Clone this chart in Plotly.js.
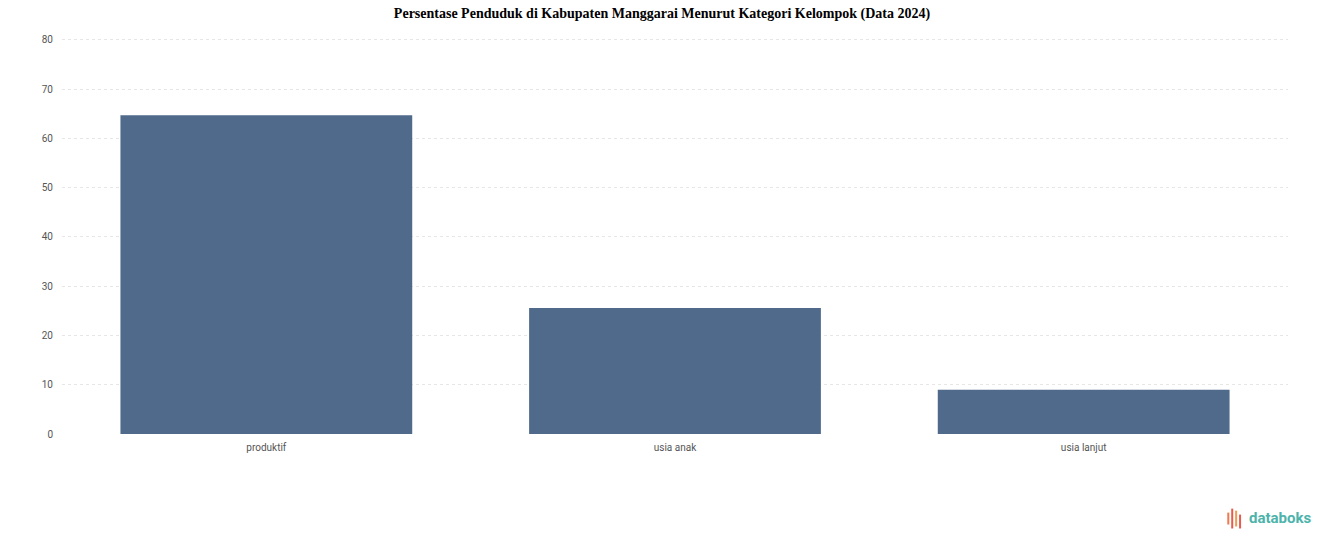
<!DOCTYPE html>
<html><head><meta charset="utf-8">
<script src="https://cdn.plot.ly/plotly-3.0.1.min.js"></script>
<style>html,body{margin:0;padding:0;background:#fff}#c{width:1324px;height:547px}</style>
</head><body><div id="c"></div>
<script>
const categories = ["produktif", "usia anak", "usia lanjut"];
const values = [64.7, 25.6, 9.0];
const tickVals = [0, 10, 20, 30, 40, 50, 60, 70, 80];

const trace = {
  type: "bar", x: categories, y: values,
  marker: {color: "#4f6a8b"},
  hoverinfo: "x+y"
};
const layout = {
  width: 1324, height: 547,
  margin: {l: 62, r: 36, t: 37, b: 113},
  paper_bgcolor: "#fff", plot_bgcolor: "#fff",
  bargap: 0.286,
  title: {text: "<b>Persentase Penduduk di Kabupaten Manggarai Menurut Kategori Kelompok (Data 2024)</b>",
    font: {family: "Liberation Serif, Times New Roman, serif", size: 14, color: "#000"},
    x: 0.5, xanchor: "center", y: 0.985, yanchor: "top"},
  xaxis: {tickfont: {family: "Roboto, sans-serif", size: 10, color: "#555"}, showgrid: false, zeroline: false, showline: false, ticks: "", ticklabelstandoff: 6},
  yaxis: {range: [0, 80.6], tickvals: tickVals, tickfont: {family: "Roboto, sans-serif", size: 10, color: "#555"},
    gridcolor: "#e6e6e6", griddash: "dot", zeroline: false, showline: false, ticks: "", ticklabelstandoff: 8},
  showlegend: false,
  annotations: [{xref: "paper", yref: "paper", x: 1.02, y: -0.212, xanchor: "right", yanchor: "middle",
    text: "<b>databoks</b>", showarrow: false, font: {family: "Roboto, sans-serif", size: 15, color: "#4db3ab"}}],
  shapes: [
    {type:"line", xref:"paper", yref:"paper", x0:0.9513, x1:0.9513, y0:-0.228, y1:-0.198, line:{color:"#f07a4f", width:2}},
    {type:"line", xref:"paper", yref:"paper", x0:0.9545, x1:0.9545, y0:-0.238, y1:-0.188, line:{color:"#ea5a4a", width:2}},
    {type:"line", xref:"paper", yref:"paper", x0:0.9577, x1:0.9577, y0:-0.233, y1:-0.193, line:{color:"#f29a52", width:2}},
    {type:"line", xref:"paper", yref:"paper", x0:0.9609, x1:0.9609, y0:-0.238, y1:-0.203, line:{color:"#e85a4f", width:2}}
  ]
};
Plotly.newPlot("c", [trace], layout, {displayModeBar: false, staticPlot: true});
</script></body></html>
